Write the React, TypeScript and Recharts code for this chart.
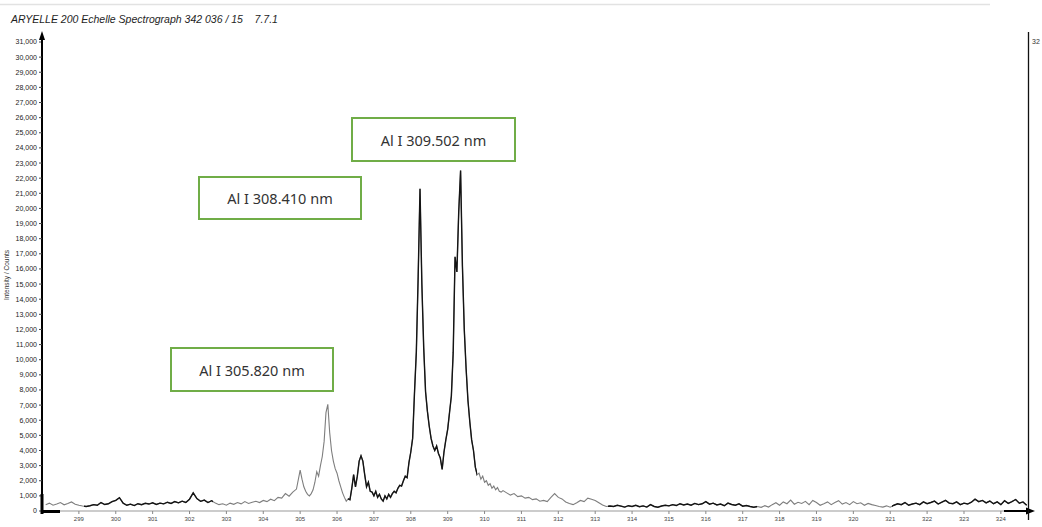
import React from "react";
import { LineChart, Line, XAxis, YAxis } from "recharts";

// spectrum in three pieces (finer sampling around the Al lines)
const lowStart = 298.1;
const lowStep = 0.1;
const countsLow = [
  420, 520, 380, 460, 560, 410, 490, 600, 450, 380,
  330, 300, 350, 420, 380, 560, 430, 480, 620, 700,
  880, 520, 380, 450, 360, 480, 420, 510, 460, 540,
  430, 520, 470, 580, 500, 620, 540, 650, 560, 780,
  1200, 820, 640, 720, 560, 680, 520, 420, 480, 380,
  520, 440, 560, 470, 620, 500, 580, 640, 560, 700,
  620, 780, 680, 900, 850, 1150, 980, 1250, 1450, 2700,
];

const peakStart = 305.05;
const peakStep = 0.05;
const countsPeak = [
  2100, 1600, 1300, 1100, 1000, 1150, 1400, 1900, 2600, 2300,
  3000, 3600, 4600, 6500, 7050, 5200, 4000, 3300, 2800, 2500,
  2000, 1600, 1200, 900, 650, 800, 750, 1500, 2400, 1600,
  2300, 3300, 3650, 3300, 2400, 1600, 1900, 1300, 1250, 1000,
  1300, 900, 1100, 800, 650, 1000, 800, 1100, 900, 1150,
  1300, 1200, 1500, 1700, 1650, 2000, 2300, 2200, 3200, 3900,
  4800, 7800, 10500, 15500, 21300, 15000, 10800, 7900, 6600, 5600,
  4800, 4300, 4000, 4300, 3800, 3500, 2750, 3900, 4700, 5400,
  6500, 7600, 10500, 16800, 15800, 19800, 22500, 16200, 12000, 9400,
  7300, 5900, 4700, 4000, 2900, 2400, 2500, 2100, 2300, 1900,
  2000, 1700, 1800, 1500, 1650, 1400, 1550, 1300, 1250, 1350,
];

const highStart = 310.6;
const highStep = 0.1;
const countsHigh = [
  1200, 1050, 1150, 950, 1000, 850, 900, 750, 800, 650,
  700, 620, 900, 1150, 900, 800, 600, 500, 420, 550,
  700, 620, 850, 780, 700, 550, 400, 300, 330, 300,
  380, 320, 260, 350, 300, 380, 280, 340, 260, 420,
  300, 250, 330, 380, 340, 420, 360, 480, 400, 460,
  380, 500, 420, 480, 620, 450, 520, 400, 460, 350,
  520, 430, 380, 470, 320, 360, 300, 250, 300, 240,
  350, 260, 420, 550, 380, 600, 480, 720, 450, 580,
  500, 640, 420, 700, 560, 380, 480, 600, 420, 560,
  680, 460, 560, 420, 620, 480, 540, 380, 500, 420,
  360, 300, 260, 340, 250, 380, 480, 420, 560, 380,
  460, 520, 420, 600, 480, 560, 650, 460, 580, 700,
  520, 480, 600, 420, 520, 460, 580, 780, 620, 700,
  540, 660, 480, 600, 420, 680, 500, 620, 760, 520,
  600, 380,
];

// stretches where the scanned trace is faint grey instead of black
const lightBands = [
  [298.0, 299.15],
  [302.65, 306.3],
  [309.8, 313.35],
  [317.4, 321.05],
];

const xTicks = [
  299, 300, 301, 302, 303, 304, 305, 306, 307, 308, 309, 310, 311,
  312, 313, 314, 315, 316, 317, 318, 319, 320, 321, 322, 323, 324,
];
const yTicks = [
  0, 1000, 2000, 3000, 4000, 5000, 6000, 7000, 8000, 9000, 10000,
  11000, 12000, 13000, 14000, 15000, 16000, 17000, 18000, 19000, 20000,
  21000, 22000, 23000, 24000, 25000, 26000, 27000, 28000, 29000, 30000, 31000,
];

const labels = [
  { text: "Al I 308.410 nm", left: 198, top: 176, width: 164, height: 44 },
  { text: "Al I 309.502 nm", left: 351, top: 117, width: 165, height: 45 },
  { text: "Al I 305.820 nm", left: 170, top: 347, width: 164, height: 45 },
];

const X_MIN = 298;
const X_MAX = 324.79;
const PLOT_LEFT = 42;
const PLOT_RIGHT = 1030;

function buildSpectrum() {
  const pts: { nm: number; c: number }[] = [];
  const add = (start: number, step: number, arr: number[]) =>
    arr.forEach((c, i) => pts.push({ nm: +(start + i * step).toFixed(2), c }));
  add(lowStart, lowStep, countsLow);
  add(peakStart, peakStep, countsPeak);
  add(highStart, highStep, countsHigh);
  return pts;
}

const data = buildSpectrum();
const font = "'Liberation Sans', Arial, sans-serif";
const frac = (nm: number) => ((nm - X_MIN) / (X_MAX - X_MIN)) * 100;

export default function App() {
  return (
    <div
      style={{
        position: "absolute",
        left: 0,
        top: 0,
        width: 1042,
        height: 527,
        background: "#fff",
        fontFamily: font,
        overflow: "hidden",
      }}
    >
      <div
        style={{
          position: "absolute",
          left: 11,
          top: 13,
          fontSize: 10.5,
          fontStyle: "italic",
          color: "#1e1e1e",
          whiteSpace: "pre",
        }}
      >
        {"ARYELLE 200 Echelle Spectrograph 342 036 / 15    7.7.1"}
      </div>

      <LineChart
        width={1042}
        height={527}
        data={data}
        margin={{ top: 42, right: 12, left: 0, bottom: 0 }}
        style={{ position: "absolute", left: 0, top: 0 }}
      >
        <defs>
          <linearGradient
            id="traceDark"
            gradientUnits="userSpaceOnUse"
            x1={PLOT_LEFT}
            y1={0}
            x2={PLOT_RIGHT}
            y2={0}
          >
            <stop offset="0%" stopColor="#141414" stopOpacity={1} />
            {lightBands.map(([a, b]) => [
              <stop key={`a1-${a}`} offset={`${frac(a)}%`} stopColor="#141414" stopOpacity={1} />,
              <stop key={`a2-${a}`} offset={`${frac(a)}%`} stopColor="#141414" stopOpacity={0} />,
              <stop key={`b1-${b}`} offset={`${frac(b)}%`} stopColor="#141414" stopOpacity={0} />,
              <stop key={`b2-${b}`} offset={`${frac(b)}%`} stopColor="#141414" stopOpacity={1} />,
            ])}
            <stop offset="100%" stopColor="#141414" stopOpacity={1} />
          </linearGradient>
        </defs>
        <XAxis
          type="number"
          dataKey="nm"
          domain={[X_MIN, X_MAX]}
          ticks={xTicks}
          allowDataOverflow
          height={16}
          tickSize={3}
          tickMargin={3}
          axisLine={{ stroke: "#999", strokeWidth: 1 }}
          tickLine={{ stroke: "#888" }}
          tick={{ fontSize: 6, fill: "#444", fontFamily: font }}
        />
        <YAxis
          type="number"
          domain={[0, 31000]}
          ticks={yTicks}
          width={42}
          tickSize={3}
          tickMargin={2}
          interval={0}
          axisLine={{ stroke: "#000", strokeWidth: 2 }}
          tickLine={{ stroke: "#444" }}
          tick={{ fontSize: 7, fill: "#222", fontFamily: font }}
          tickFormatter={(v: number) => v.toLocaleString("en-US")}
        />
        <Line
          type="linear"
          dataKey="c"
          stroke="#7e7e7e"
          strokeWidth={1.1}
          dot={false}
          isAnimationActive={false}
        />
        <Line
          type="linear"
          dataKey="c"
          stroke="url(#traceDark)"
          strokeWidth={1.4}
          dot={false}
          isAnimationActive={false}
        />
      </LineChart>

      <svg
        width={1042}
        height={527}
        style={{ position: "absolute", left: 0, top: 0, pointerEvents: "none" }}
      >
        <line x1={0} y1={4.5} x2={990} y2={4.5} stroke="#e2e2e2" strokeWidth={1.5} />
        <line x1={42} y1={36} x2={42} y2={43} stroke="#000" strokeWidth={2} />
        <polygon points="42,31 39,40 45,40" fill="#000" />
        <rect x={40.5} y={494} width={3} height={20} fill="#000" />
        <rect x={42} y={510} width={18} height={3} fill="#000" />
        <line x1={1004} y1={511} x2={1030} y2={511} stroke="#000" strokeWidth={2} />
        <polygon points="1035,511 1026,507.5 1026,514.5" fill="#000" />
        <line x1={1028.5} y1={32} x2={1028.5} y2={520} stroke="#111" strokeWidth={1.3} />
        <text x={1032} y={44} fontSize={7} fill="#333" fontFamily={font}>
          32
        </text>
        <text
          x={9}
          y={275}
          fontSize={6.5}
          fill="#333"
          fontFamily={font}
          textAnchor="middle"
          transform="rotate(-90, 9, 275)"
        >
          Intensity / Counts
        </text>
      </svg>

      {labels.map((b) => (
        <div
          key={b.text}
          style={{
            position: "absolute",
            left: b.left,
            top: b.top,
            width: b.width,
            height: b.height,
            boxSizing: "border-box",
            border: "2.5px solid #70ad47",
            background: "#fff",
            display: "flex",
            alignItems: "center",
            justifyContent: "center",
            fontFamily: "'Noto Sans', sans-serif",
            fontSize: 14.5,
            color: "#333",
          }}
        >
          {b.text}
        </div>
      ))}
    </div>
  );
}
